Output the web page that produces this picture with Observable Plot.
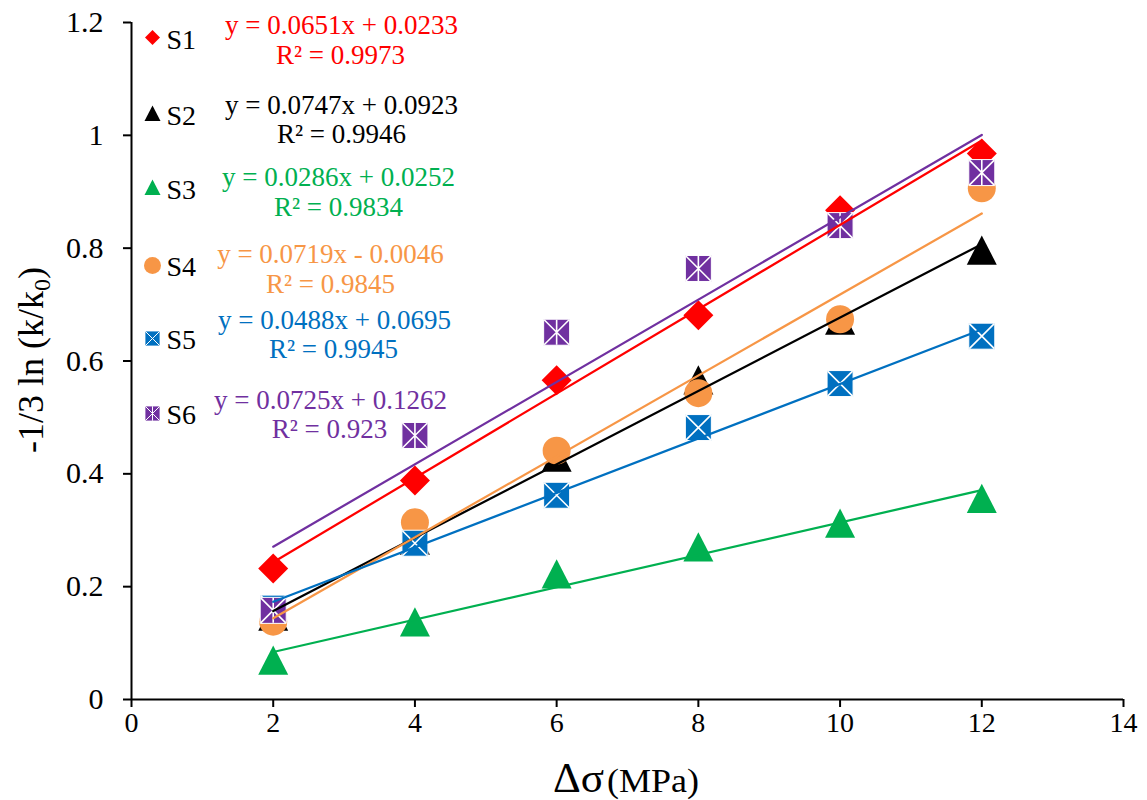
<!DOCTYPE html>
<html>
<head>
<meta charset="utf-8">
<script src="https://cdn.jsdelivr.net/npm/d3@7"></script>
<script src="https://cdn.jsdelivr.net/npm/@observablehq/plot@0.6"></script>
<style>
  body { margin: 0; background: #fff; }
  #chart { width: 1147px; height: 800px; }
  #chart svg text { font-family: "Liberation Serif", "Times New Roman", serif; }
</style>
</head>
<body>
<div id="chart"></div>
<script>
// ---------- data ----------
const stress = [2, 4, 6, 8, 10, 12];              // Δσ (MPa)
const seriesNames = ["S1", "S2", "S3", "S4", "S5", "S6"];
const s1 = [0.232, 0.388, 0.566, 0.681, 0.867, 0.968];
const s2 = [0.147, 0.282, 0.429, 0.566, 0.672, 0.796];
const s3 = [0.069, 0.137, 0.222, 0.270, 0.312, 0.356];
const s4 = [0.138, 0.314, 0.441, 0.543, 0.674, 0.906];
const s5 = [0.162, 0.277, 0.362, 0.482, 0.560, 0.644];
const s6 = [0.158, 0.468, 0.651, 0.764, 0.840, 0.934];
const equations = [
  "y = 0.0651x + 0.0233",
  "y = 0.0747x + 0.0923",
  "y = 0.0286x + 0.0252",
  "y = 0.0719x - 0.0046",
  "y = 0.0488x + 0.0695",
  "y = 0.0725x + 0.1262"
];
const rSquared = ["R² = 0.9973", "R² = 0.9946", "R² = 0.9834", "R² = 0.9845", "R² = 0.9945", "R² = 0.923"];
const xTicks = [0, 2, 4, 6, 8, 10, 12, 14];
const yTicks = [0, 0.2, 0.4, 0.6, 0.8, 1, 1.2];

// ---------- styles ----------
const colors = ["#FF0000", "#000000", "#00B050", "#F79646", "#0070C0", "#7030A0"];
const FONT = "Liberation Serif, Times New Roman, serif";

const rad = size => Math.sqrt(size / Math.PI);
const diamond = {draw(c, s) { const r = rad(s); c.moveTo(0, -r); c.lineTo(r, 0); c.lineTo(0, r); c.lineTo(-r, 0); c.closePath(); }};
const triangle = {draw(c, s) { const r = rad(s); c.moveTo(0, -r); c.lineTo(r, r * 0.95); c.lineTo(-r, r * 0.95); c.closePath(); }};
const square = {draw(c, s) { const r = rad(s); c.moveTo(-r, -r); c.lineTo(r, -r); c.lineTo(r, r); c.lineTo(-r, r); c.closePath(); }};
const cross = {draw(c, s) { const r = rad(s); c.moveTo(-r, -r); c.lineTo(r, r); c.moveTo(r, -r); c.lineTo(-r, r); }};
const asterisk = {draw(c, s) { const r = rad(s); c.moveTo(-r, -r); c.lineTo(r, r); c.moveTo(r, -r); c.lineTo(-r, r); c.moveTo(0, -r); c.lineTo(0, r); }};

const symbols = [diamond, triangle, triangle, "circle", square, square];
const overlays = [null, null, null, null, cross, asterisk];
const markR = [15, 15, 15, 14, 13, 13];
const legendR = [7.5, 8, 8, 8.5, 7.5, 7.5];

// ---------- table ----------
const values = [s1, s2, s3, s4, s5, s6];
const rows = seriesNames.flatMap((name, i) => stress.map((x, j) => ({series: name, x, y: values[i][j]})));
const rowsOf = name => rows.filter(d => d.series === name);

// legend layout (pixel anchors, converted to offsets from the frame's top-left)
const ML = 131, MT = 22;
const legMarkY = [37, 113, 187, 265, 338, 413];
const legLabelBase = [48, 124, 198, 275, 348, 423];
const eqCx = [341, 341, 338, 330, 334, 330];
const eqBase = [33, 113, 185, 262, 328, 408];
const r2Cx = [340, 341, 338, 330, 333, 329];
const r2Base = [63, 142, 215, 292, 357, 437];

const markerMarks = [];
const lineMarks = [];
const legendMarks = [];
seriesNames.forEach((name, i) => {
  const data = rowsOf(name);
  const isSquare = overlays[i] !== null;
  markerMarks.push(Plot.dot(data, {
    x: "x", y: "y", symbol: () => symbols[i], r: markR[i], fill: colors[i],
    stroke: isSquare ? "#fff" : "none", strokeWidth: 1
  }));
  if (isSquare) {
    markerMarks.push(Plot.dot(data, {x: "x", y: "y", symbol: () => overlays[i], r: markR[i] - 0.5, fill: "none", stroke: "#fff", strokeWidth: 1.6}));
  }
  lineMarks.push(Plot.linearRegressionY(data, {x: "x", y: "y", stroke: colors[i], strokeWidth: 2.25, ci: 0}));

  legendMarks.push(Plot.dot([name], {frameAnchor: "top-left", dx: 152 - ML, dy: legMarkY[i] - MT,
    symbol: () => symbols[i], r: legendR[i], fill: colors[i], stroke: isSquare ? "#fff" : "none", strokeWidth: 0.8}));
  if (isSquare) {
    legendMarks.push(Plot.dot([name], {frameAnchor: "top-left", dx: 152 - ML, dy: legMarkY[i] - MT,
      symbol: () => overlays[i], r: legendR[i] - 0.3, fill: "none", stroke: "#fff", strokeWidth: 1}));
  }
  legendMarks.push(Plot.text([name], {frameAnchor: "top-left", dx: 166 - ML, dy: legLabelBase[i] - MT,
    text: d => d, fill: "#000", fontSize: 28, textAnchor: "start", lineAnchor: "bottom"}));
  legendMarks.push(Plot.text([equations[i]], {frameAnchor: "top-left", dx: eqCx[i] - ML, dy: eqBase[i] - MT,
    text: d => d, fill: colors[i], fontSize: 27, textAnchor: "middle", lineAnchor: "bottom"}));
  legendMarks.push(Plot.text([rSquared[i]], {frameAnchor: "top-left", dx: r2Cx[i] - ML, dy: r2Base[i] - MT,
    text: d => d, fill: colors[i], fontSize: 27, textAnchor: "middle", lineAnchor: "bottom"}));
});

const chart = Plot.plot({
  width: 1147,
  height: 800,
  marginLeft: ML,
  marginRight: 24,
  marginTop: MT,
  marginBottom: 101,
  style: {background: "#fff", color: "#000", overflow: "visible"},
  x: {domain: [0, 14], label: null},
  y: {domain: [0, 1.2], label: null},
  marks: [
    Plot.axisX({ticks: xTicks, tickSize: 8, tickPadding: 5, fontSize: 28, strokeWidth: 2, label: null, tickFormat: d => String(d)}),
    Plot.axisY({ticks: yTicks, tickSize: 8, tickPadding: 20, fontSize: 30, strokeWidth: 2, label: null, tickFormat: d => String(d)}),
    Plot.ruleY([0], {strokeWidth: 2, stroke: "#000"}),
    Plot.ruleX([0], {strokeWidth: 2, stroke: "#000"}),
    ...markerMarks,
    ...lineMarks,
    ...legendMarks
  ]
});

document.getElementById("chart").appendChild(chart);

// axis titles (with subscript) added to the SVG
const svg = d3.select(chart);
const yt = svg.append("text")
  .attr("transform", "translate(43,360) rotate(-90)")
  .attr("text-anchor", "middle")
  .attr("font-size", 36)
  .attr("fill", "#000");
yt.append("tspan").text("-1/3 ln (k/k");
yt.append("tspan").attr("font-size", 24).attr("dy", 7).text("0");
yt.append("tspan").attr("dy", -7).text(")");

svg.append("text")
  .attr("x", 553).attr("y", 792)
  .attr("text-anchor", "start")
  .attr("font-size", 42).attr("fill", "#000")
  .attr("textLength", 51).attr("lengthAdjust", "spacingAndGlyphs")
  .text("Δσ");
svg.append("text")
  .attr("x", 607).attr("y", 792)
  .attr("text-anchor", "start")
  .attr("font-size", 34).attr("fill", "#000")
  .attr("textLength", 92).attr("lengthAdjust", "spacingAndGlyphs")
  .text("(MPa)");
svg.selectAll("text").attr("font-family", FONT).style("font-family", FONT);
</script>
</body>
</html>
